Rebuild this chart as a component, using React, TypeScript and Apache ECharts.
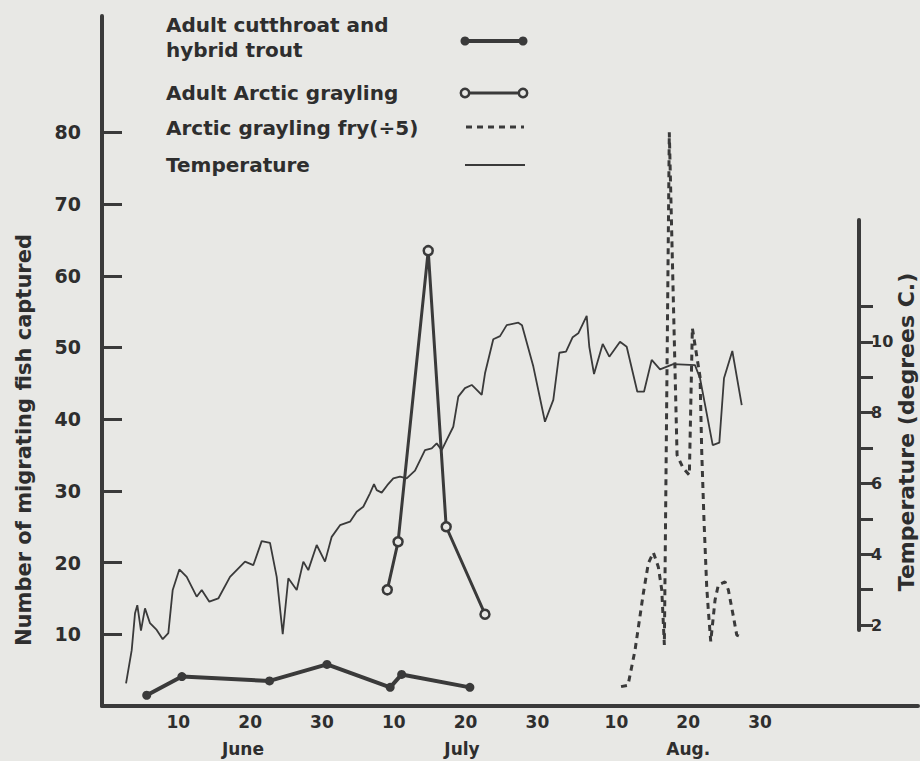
import React, { useEffect, useRef } from "react";
import * as echarts from "echarts";

// Day index: 1 = June 1, 31 = July 1, 62 = Aug 1
const troutDays = [5.6, 10.5, 22.7, 30.7, 39.5, 41.1, 50.6];
const troutCounts = [1.5, 4.1, 3.5, 5.8, 2.6, 4.4, 2.6];

const graylingDays = [39.1, 40.6, 44.8, 47.3, 52.7];
const graylingCounts = [16.2, 22.9, 63.5, 25.0, 12.8];

const fryDays = [71.65, 72.62, 73.6, 74.75, 75.45, 76.15, 76.84, 77.32, 77.68, 78.37, 79.45, 80.28, 81.16, 81.58, 82.65, 82.89, 83.2, 83.58, 83.8, 84.14, 84.74, 85.2, 86.13, 86.59, 87.29, 87.76, 88.22];
const fryCounts = [2.7, 2.9, 7.8, 15.7, 19.9, 21.4, 19.4, 16.2, 8.5, 80.0, 35.0, 33.2, 32.2, 52.7, 45.9, 35.3, 25.9, 16.6, 13.4, 9.0, 14.8, 16.9, 17.3, 16.2, 12.5, 9.9, 9.7];

const tempDays = [2.72, 3.51, 3.97, 4.29, 4.8, 5.36, 6.06, 6.99, 7.83, 8.61, 9.22, 10.14, 11.17, 12.56, 13.26, 14.32, 15.57, 17.2, 19.29, 20.44, 21.61, 22.77, 23.7, 24.54, 25.32, 26.49, 27.41, 28.1, 29.27, 30.43, 31.36, 32.52, 33.91, 34.84, 35.76, 36.69, 37.25, 37.63, 38.32, 39.1, 39.94, 40.87, 41.8, 42.96, 44.35, 45.29, 45.98, 46.68, 47.38, 48.29, 48.99, 49.92, 50.86, 51.32, 52.25, 52.71, 53.86, 54.8, 55.73, 57.35, 57.86, 59.44, 61.06, 62.22, 63.06, 63.99, 64.92, 65.7, 66.87, 67.23, 67.89, 69.1, 70.02, 71.51, 72.44, 73.92, 74.85, 75.92, 77.08, 78.93, 81.95, 82.65, 84.42, 85.34, 85.99, 87.15, 88.46];
const tempValues = [0.35, 1.29, 2.33, 2.56, 1.84, 2.47, 2.05, 1.86, 1.6, 1.77, 2.99, 3.57, 3.36, 2.8, 2.99, 2.66, 2.75, 3.36, 3.79, 3.69, 4.37, 4.32, 3.36, 1.74, 3.32, 2.99, 3.79, 3.55, 4.26, 3.79, 4.49, 4.82, 4.92, 5.2, 5.34, 5.72, 5.98, 5.81, 5.74, 5.95, 6.14, 6.19, 6.14, 6.36, 6.94, 6.99, 7.13, 6.94, 7.23, 7.6, 8.45, 8.69, 8.78, 8.69, 8.5, 9.11, 10.07, 10.16, 10.47, 10.54, 10.47, 9.3, 7.74, 8.36, 9.69, 9.72, 10.13, 10.24, 10.73, 9.86, 9.09, 9.94, 9.58, 10.0, 9.86, 8.59, 8.59, 9.49, 9.22, 9.37, 9.34, 8.97, 7.08, 7.15, 8.97, 9.74, 8.21];

const xTickDays = [10, 20, 30, 40, 50, 60, 71, 81, 91];
const xTickLabels = ["10", "20", "30", "10", "20", "30", "10", "20", "30"];
const monthDays = [19, 49.5, 81];
const monthLabels = ["June", "July", "Aug."];
const leftTicks = [10, 20, 30, 40, 50, 60, 70, 80];
const rightTicks = [2, 3, 4, 5, 6, 7, 8, 9, 10, 11];
const rightLabels = [2, 4, 6, 8, 10];

const leftTitle = "Number of migrating fish captured";
const rightTitle = "Temperature (degrees C.)";
const legendLabels = [
  "Adult cutthroat and\nhybrid trout",
  "Adult Arctic grayling",
  "Arctic grayling fry(\u00f75)",
  "Temperature",
];

const BG = "#e8e8e5";
const INK = "#3a3a3a";
const TXT = "#2e2e2e";
const FONT = '"DejaVu Sans", sans-serif';

const zip = (xs: number[], ys: number[]) => xs.map((x, i) => [x, ys[i]]);

export default function App() {
  const ref = useRef<HTMLDivElement>(null);

  useEffect(() => {
    if (!ref.current) return;
    const chart = echarts.init(ref.current, null, { renderer: "svg" });

    const X0 = -0.627;
    const X1 = 113.0;
    const X2 = 104.79;

    const labelStyle = {
      color: TXT,
      fontFamily: FONT,
      fontWeight: "bold" as const,
    };

    const legendY = [37.5, 93, 128, 165];
    const sx1 = 465;
    const sx2 = 523;

    const graphic: any[] = [
      {
        type: "text",
        x: 24,
        y: 440,
        rotation: Math.PI / 2,
        style: {
          text: leftTitle,
          fill: TXT,
          font: `bold 21px ${FONT}`,
          align: "center",
          verticalAlign: "middle",
        },
      },
      {
        type: "text",
        x: 906,
        y: 432,
        rotation: Math.PI / 2,
        style: {
          text: rightTitle,
          fill: TXT,
          font: `bold 22px ${FONT}`,
          align: "center",
          verticalAlign: "middle",
        },
      },
      {
        type: "text",
        x: 166,
        y: legendY[0],
        style: {
          text: legendLabels[0],
          fill: TXT,
          font: `bold 20px ${FONT}`,
          lineHeight: 25,
          align: "left",
          verticalAlign: "middle",
        },
      },
      ...legendLabels.slice(1).map((t, i) => ({
        type: "text",
        x: 166,
        y: legendY[i + 1],
        style: {
          text: t,
          fill: TXT,
          font: `bold 20px ${FONT}`,
          align: "left",
          verticalAlign: "middle",
        },
      })),
      // trout sample
      { type: "line", shape: { x1: sx1, y1: 41, x2: sx2, y2: 41 }, style: { stroke: INK, lineWidth: 4 } },
      { type: "circle", shape: { cx: sx1, cy: 41, r: 4.5 }, style: { fill: INK } },
      { type: "circle", shape: { cx: sx2, cy: 41, r: 4.5 }, style: { fill: INK } },
      // grayling sample
      { type: "line", shape: { x1: sx1, y1: 93, x2: sx2, y2: 93 }, style: { stroke: INK, lineWidth: 3 } },
      { type: "circle", shape: { cx: sx1, cy: 93, r: 4.2 }, style: { fill: BG, stroke: INK, lineWidth: 2.5 } },
      { type: "circle", shape: { cx: sx2, cy: 93, r: 4.2 }, style: { fill: BG, stroke: INK, lineWidth: 2.5 } },
      // fry sample
      {
        type: "line",
        shape: { x1: 466, y1: 127, x2: 524, y2: 127 },
        style: { stroke: INK, lineWidth: 3, lineDash: [6, 5] },
      },
      // temperature sample
      { type: "line", shape: { x1: sx1, y1: 165, x2: 525, y2: 165 }, style: { stroke: INK, lineWidth: 1.8 } },
    ];

    const option: any = {
      animation: false,
      backgroundColor: BG,
      grid: [
        { left: 102, right: 2, top: 16, bottom: 55 },
        { left: 102, right: 61, top: 220, bottom: 131 },
      ],
      xAxis: [
        {
          gridIndex: 0,
          type: "value",
          position: "bottom",
          min: X0,
          max: X1,
          axisLine: { show: true, onZero: false, lineStyle: { color: INK, width: 4 } },
          axisTick: { show: false },
          splitLine: { show: false },
          axisLabel: {
            ...labelStyle,
            fontSize: 17,
            margin: 7,
            customValues: xTickDays,
            formatter: (v: number) => {
              const i = xTickDays.indexOf(v);
              return i >= 0 ? xTickLabels[i] : "";
            },
          },
        },
        {
          gridIndex: 0,
          type: "value",
          position: "bottom",
          min: X0,
          max: X1,
          axisLine: { show: false, onZero: false },
          axisTick: { show: false },
          splitLine: { show: false },
          axisLabel: {
            ...labelStyle,
            fontSize: 17,
            margin: 34,
            customValues: monthDays,
            formatter: (v: number) => {
              const i = monthDays.indexOf(v);
              return i >= 0 ? monthLabels[i] : "";
            },
          },
        },
        {
          gridIndex: 1,
          type: "value",
          min: X0,
          max: X2,
          show: false,
          axisLine: { onZero: false },
          splitLine: { show: false },
        },
      ],
      yAxis: [
        {
          gridIndex: 0,
          type: "value",
          position: "left",
          min: 0,
          max: 96.23,
          axisLine: { show: true, onZero: false, lineStyle: { color: INK, width: 4 } },
          axisTick: {
            show: true,
            inside: true,
            length: 20,
            customValues: leftTicks,
            lineStyle: { color: INK, width: 3 },
          },
          splitLine: { show: false },
          axisLabel: {
            ...labelStyle,
            fontSize: 19,
            margin: 21,
            customValues: leftTicks,
          },
        },
        {
          gridIndex: 1,
          type: "value",
          position: "right",
          min: 1.859,
          max: 13.44,
          axisLine: { show: true, onZero: false, lineStyle: { color: INK, width: 4 } },
          axisTick: {
            show: true,
            inside: false,
            length: 14,
            customValues: rightTicks,
            lineStyle: { color: INK, width: 3 },
          },
          splitLine: { show: false },
          axisLabel: {
            ...labelStyle,
            fontSize: 16,
            margin: 12,
            customValues: rightLabels,
          },
        },
      ],
      graphic,
      series: [
        {
          name: "Adult cutthroat and hybrid trout",
          type: "line",
          xAxisIndex: 0,
          yAxisIndex: 0,
          data: zip(troutDays, troutCounts),
          symbol: "circle",
          symbolSize: 9,
          itemStyle: { color: INK },
          lineStyle: { color: INK, width: 4 },
        },
        {
          name: "Adult Arctic grayling",
          type: "line",
          xAxisIndex: 0,
          yAxisIndex: 0,
          data: zip(graylingDays, graylingCounts),
          symbol: "circle",
          symbolSize: 9,
          itemStyle: { color: BG, borderColor: INK, borderWidth: 2.5 },
          lineStyle: { color: INK, width: 3 },
          z: 3,
        },
        {
          name: "Arctic grayling fry(\u00f75)",
          type: "line",
          xAxisIndex: 0,
          yAxisIndex: 0,
          data: zip(fryDays, fryCounts),
          showSymbol: false,
          symbol: "none",
          lineStyle: { color: INK, width: 3, type: [6, 5] },
        },
        {
          name: "Temperature",
          type: "line",
          xAxisIndex: 2,
          yAxisIndex: 1,
          data: zip(tempDays, tempValues),
          showSymbol: false,
          symbol: "none",
          clip: false,
          lineStyle: { color: INK, width: 1.8 },
        },
      ],
    };

    chart.setOption(option);
    return () => chart.dispose();
  }, []);

  return (
    <div
      ref={ref}
      style={{ position: "absolute", left: 0, top: 0, width: 920, height: 761 }}
    />
  );
}
